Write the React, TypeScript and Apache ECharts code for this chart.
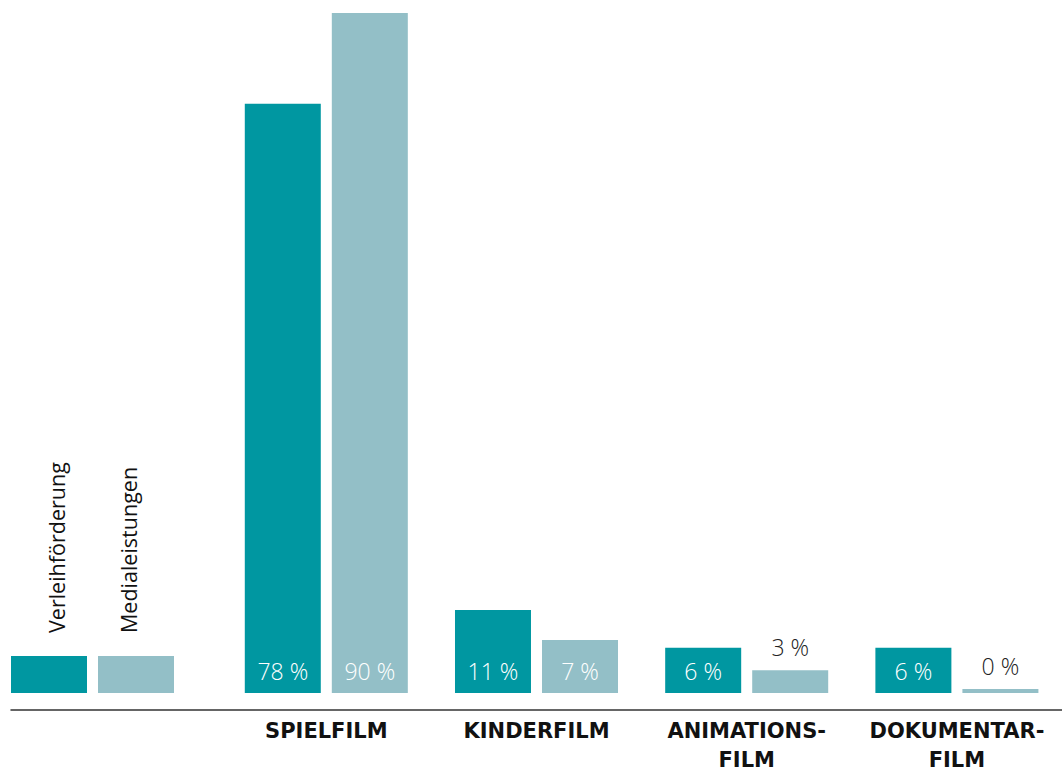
import React, { useEffect, useRef } from "react";
import * as echarts from "echarts";

const categories = ["", "SPIELFILM", "KINDERFILM", "ANIMATIONS-\nFILM", "DOKUMENTAR-\nFILM"];
const verleihValues: (number | string)[] = ["-", 78, 11, 6, 6];
const medialValues: (number | string)[] = ["-", 90, 7, 3, 0];
const seriesNames = ["Verleihförderung", "Medialeistungen"];
const colors = ["#0097A1", "#93BFC7"];

const FONT = "'Open Sans', 'Noto Sans', sans-serif";
const CAT_FONT = "'DejaVu Sans', sans-serif";

function buildData(values: (number | string)[]) {
  return values.map((v) => {
    if (typeof v !== "number") return v;
    const outside = v < 5;
    return {
      value: v,
      label: outside
        ? { position: "top", distance: 12, color: "#222" }
        : { position: "insideBottom", distance: 11, color: "#ffffff" },
    };
  });
}

export default function App() {
  const ref = useRef<HTMLDivElement>(null);
  useEffect(() => {
    document.body.style.margin = "0";
    const chart = echarts.init(ref.current!, null, { renderer: "svg" });
    const labelBase = {
      show: true,
      formatter: (p: any) => `${p.value} %`,
      fontFamily: FONT,
      fontWeight: 300,
      fontSize: 23,
    };
    chart.setOption({
      animation: false,
      grid: { left: 11, right: 0, top: 13, bottom: 77, containLabel: false, outerBoundsMode: "none" },
      xAxis: {
        type: "category",
        data: categories,
        offset: 17,
        axisLine: { show: true, onZero: false, lineStyle: { color: "#333", width: 1.5 } },
        axisTick: { show: false },
        axisLabel: {
          margin: 6,
          fontFamily: CAT_FONT,
          fontWeight: "bold",
          fontSize: 21,
          color: "#111",
          lineHeight: 29,
          interval: 0,
        },
      },
      yAxis: {
        type: "value",
        min: 0,
        max: 90,
        show: false,
        splitLine: { show: false },
      },
      series: [
        {
          name: seriesNames[0],
          type: "bar",
          data: buildData(verleihValues),
          barWidth: 76,
          barGap: "14.5%",
          barMinHeight: 4,
          itemStyle: { color: colors[0] },
          label: labelBase,
        },
        {
          name: seriesNames[1],
          type: "bar",
          data: buildData(medialValues),
          barWidth: 76,
          barMinHeight: 4,
          itemStyle: { color: colors[1] },
          label: labelBase,
        },
      ],
      graphic: [
        { type: "rect", shape: { x: 11, y: 656, width: 76, height: 37 }, style: { fill: colors[0] } },
        { type: "rect", shape: { x: 98, y: 656, width: 76, height: 37 }, style: { fill: colors[1] } },
        {
          type: "text",
          x: 56,
          y: 633,
          rotation: Math.PI / 2,
          style: {
            text: seriesNames[0],
            fontFamily: FONT,
            fontSize: 21.5,
            fontWeight: 400,
            fill: "#111",
            align: "left",
            verticalAlign: "middle",
          },
        },
        {
          type: "text",
          x: 128,
          y: 633,
          rotation: Math.PI / 2,
          style: {
            text: seriesNames[1],
            fontFamily: FONT,
            fontSize: 21.5,
            fontWeight: 400,
            fill: "#111",
            align: "left",
            verticalAlign: "middle",
          },
        },
      ],
    });
    return () => chart.dispose();
  }, []);
  return <div ref={ref} style={{ width: 1062, height: 770 }} />;
}
